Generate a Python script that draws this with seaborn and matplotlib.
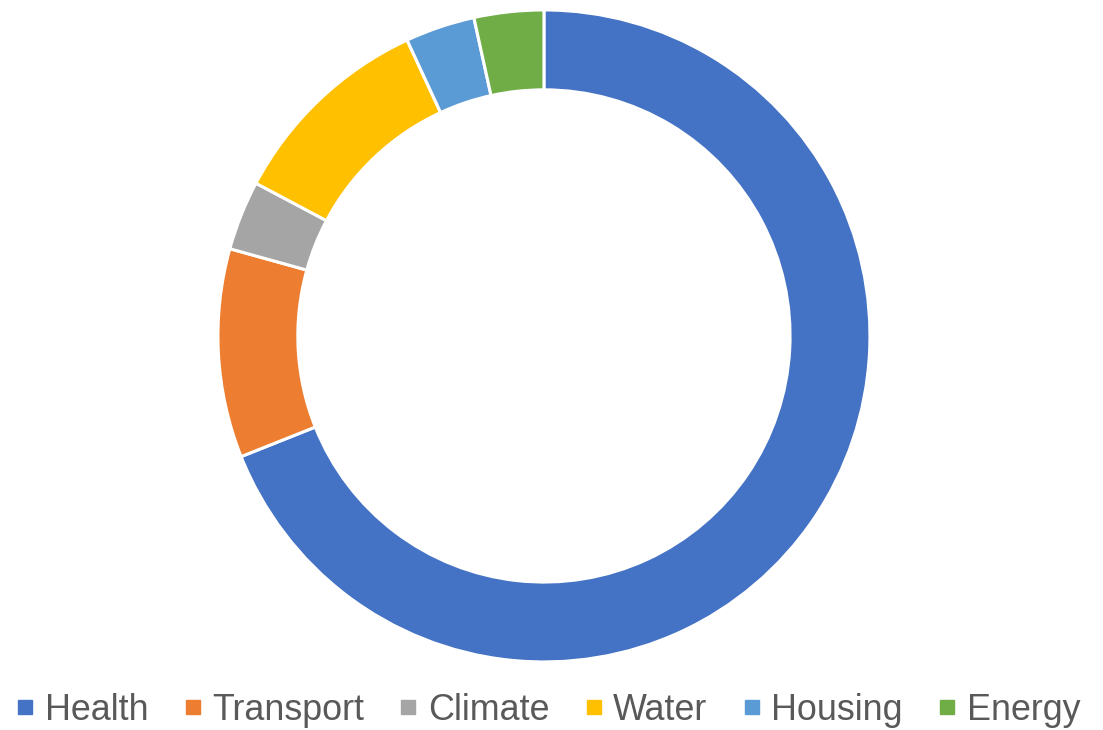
import seaborn as sns
import matplotlib.pyplot as plt
from matplotlib.lines import Line2D

categories = ["Health", "Transport", "Climate", "Water", "Housing", "Energy"]
values = [20, 3, 1, 3, 1, 1]
colors = ["#4472C4", "#ED7D31", "#A5A5A5", "#FFC000", "#5B9BD5", "#70AD47"]

sns.set_theme(style="white")
plt.rcParams['font.family'] = ['Liberation Sans', 'DejaVu Sans']

fig = plt.figure(figsize=(11.03, 7.30), dpi=100)
ax = fig.add_axes([0.1976, 0.0932, 0.5911, 0.8932])

ax.pie(values, colors=colors, startangle=90, counterclock=False,
       wedgeprops=dict(width=0.245, edgecolor="white", linewidth=2.2))
ax.set_xlim(-1, 1)
ax.set_ylim(-1, 1)
ax.set_aspect("equal")
ax.axis("off")

handles = [Line2D([0], [0], marker="s", linestyle="none", markersize=10,
                  markerfacecolor=c, markeredgecolor=c) for c in colors]
fig.legend(handles, categories, loc="center", bbox_to_anchor=(0.497, 0.027),
           ncol=6, frameon=False, fontsize=25.8, labelcolor="#595959",
           handlelength=0.5, handletextpad=0.3, columnspacing=0.98,
           borderaxespad=0, borderpad=0)

fig.savefig("out.png", dpi=100)
